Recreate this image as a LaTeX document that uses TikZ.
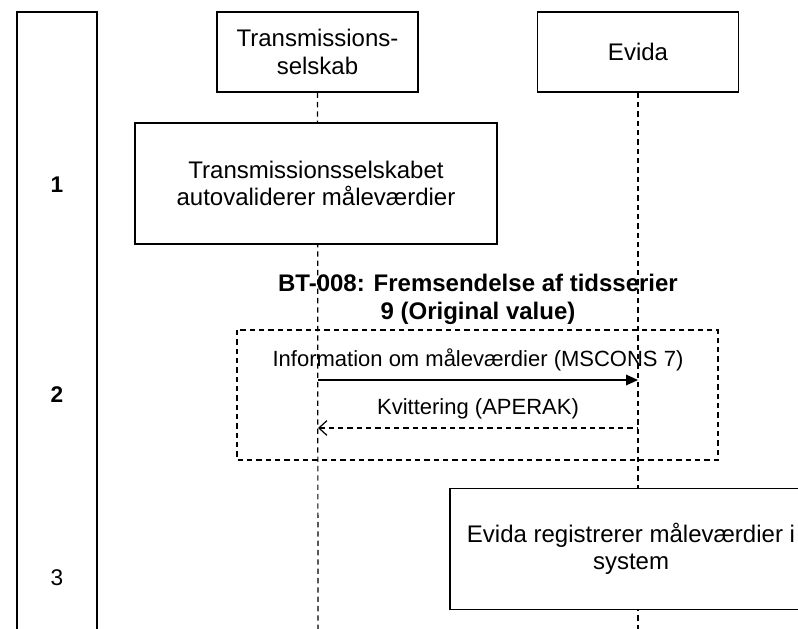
\documentclass[tikz,border=0pt]{standalone}
\usepackage{fontspec}
\setmainfont{Liberation Sans}
\usetikzlibrary{arrows.meta,positioning}
\tikzstyle{actor} = [draw, fill=white, align=center, minimum width=150.75pt, minimum height=60pt, inner sep=2pt]
\tikzstyle{action} = [draw, fill=white, align=center, inner sep=2pt, minimum width=271.5pt, minimum height=90.75pt]
\tikzstyle{lifeline} = [draw, dashed, dash pattern=on 4pt off 3pt]
\tikzstyle{lane} = [font=\fontsize{17}{20}\selectfont\bfseries]
\tikzstyle{msg} = [-{Triangle[length=9pt,width=8pt]}]
\tikzstyle{reply} = [dashed, dash pattern=on 4pt off 3pt, {Straight Barb[length=6pt,width=11pt]}-]
\tikzstyle{label} = [font=\fontsize{16.5}{20}\selectfont, above=3pt]

\begin{document}
\begin{tikzpicture}[x=0.75pt,y=-0.75pt,line width=0.9pt,font=\fontsize{18}{20.5}\selectfont]
  \useasboundingbox (0,0) rectangle (798,628);

  % phase column
  \draw (17,12) rectangle (97,640);
  \node[lane] (p1) at (57,185) {1};
  \node[lane] (p2) at (57,395) {2};
  \node[font=\fontsize{17}{20}\selectfont] (p3) at (57,578) {3};

  % participants
  \node[actor] (ts) at (317.5,52) {Transmissions-\\selskab};
  \node[actor] (ev) at (638,52) {Evida};
  \coordinate (tsend) at (318,640);
  \coordinate (evend) at (638,640);
  \path[lifeline] (ts) -- (tsend);
  \path[lifeline] (ev) -- (evend);

  % step 1
  \node[action] (val) at (316,183.5) {Transmissionsselskabet\\autovaliderer måleværdier};

  % step 2
  \node[font=\fontsize{18}{21}\selectfont\bfseries, align=center] (bt) at (478,299)
    {BT-008: Fremsendelse af tidsserier\\9 (Original value)};
  \draw[lifeline] (237,330) rectangle (718,460);
  \coordinate (m1s) at (318,380);
  \coordinate (m1e) at (638,380);
  \coordinate (m2s) at (638,428);
  \coordinate (m2e) at (318,428);
  \draw[msg] (m1s) -- node[label] {Information om måleværdier (MSCONS 7)} (m1e);
  \draw[reply] (m2e) -- node[label] {Kvittering (APERAK)} (m2s);

  % step 3
  \node[action] (reg) at (631,549) {Evida registrerer måleværdier i\\system};

\end{tikzpicture}
\end{document}
